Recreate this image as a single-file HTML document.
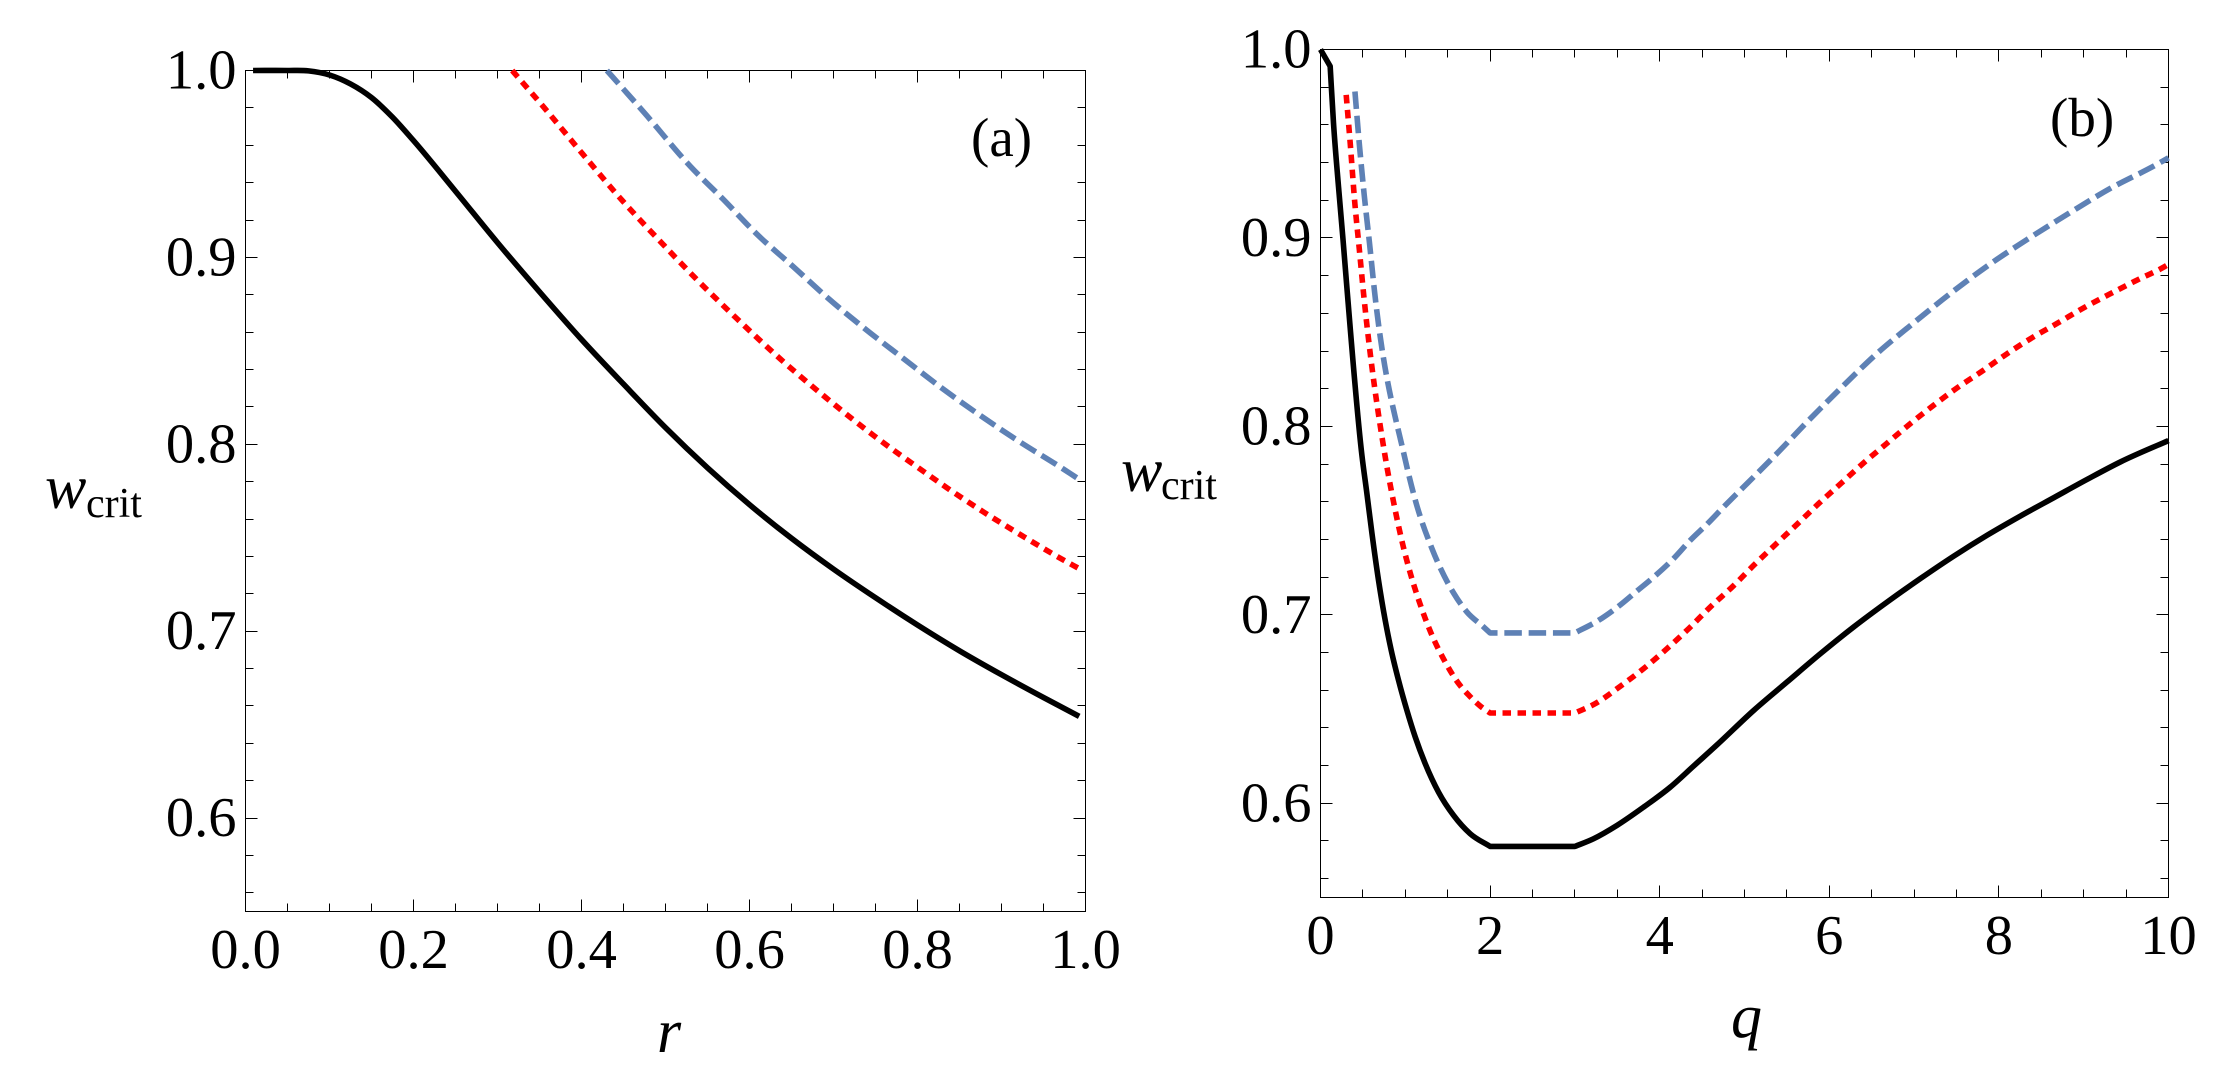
<!DOCTYPE html>
<html lang="en">
<head>
<meta charset="utf-8">
<title>Critical w versus r and q</title>
<style>
  html, body { margin: 0; padding: 0; background: #fff; }
  svg { display: block; }
  text { font-family: "Liberation Serif", serif; fill: #000; }
  .tick-label { font-size: 56.5px; }
  .sym { font-size: 62px; font-style: italic; }
  .sub { font-size: 42px; }
  .panel-tag { font-size: 55px; }
  .tick, .frame { stroke: #000; stroke-width: 1; fill: none; shape-rendering: crispEdges; }
  .curve { fill: none; stroke-width: 5.6; stroke-linejoin: round; }
</style>
</head>
<body>
<svg id="figure" xmlns="http://www.w3.org/2000/svg" width="2229" height="1084" viewBox="0 0 2229 1084">
  <rect x="0" y="0" width="2229" height="1084" fill="#ffffff"/>
  <g id="panel-a">
    <text class="panel-tag" x="971" y="156">(a)</text>
    <text x="45" y="508"><tspan class="sym">w</tspan></text>
    <text class="sub" x="86" y="517">crit</text>
    <text class="sym" x="657" y="1052">r</text>
  </g>
  <g id="panel-b">
    <text class="panel-tag" x="2050" y="136">(b)</text>
    <text x="1121" y="491"><tspan class="sym">w</tspan></text>
    <text class="sub" x="1161" y="499">crit</text>
    <text class="sym" x="1731" y="1037">q</text>
  </g>
</svg>
<script>
// Shared y-axis
const yMajorTicks = [0.6, 0.7, 0.8, 0.9, 1.0];
const yTickLabels = ["0.6", "0.7", "0.8", "0.9", "1.0"];

// Panel (a) axis values
const rMajorTicks = [0, 0.2, 0.4, 0.6, 0.8, 1.0];
const rTickLabels = ["0.0", "0.2", "0.4", "0.6", "0.8", "1.0"];

// Panel (a) series
const aBlackR = [0.009, 0.05, 0.075, 0.10, 0.125, 0.15, 0.175, 0.20, 0.25, 0.30, 0.35, 0.40, 0.45, 0.50, 0.55, 0.60, 0.65, 0.70, 0.75, 0.80, 0.85, 0.90, 0.95, 0.9925];
const aBlackW = [1.0, 1.0, 0.9998, 0.9976, 0.9928, 0.9855, 0.975, 0.9625, 0.9354, 0.9079, 0.8816, 0.8561, 0.8322, 0.8089, 0.7874, 0.7677, 0.7497, 0.7332, 0.7179, 0.7033, 0.6895, 0.6767, 0.6645, 0.6544];
const aRedR = [0.3175, 0.3556, 0.4016, 0.448, 0.4968, 0.5332, 0.5848, 0.6371, 0.6919, 0.7475, 0.8058, 0.8348, 0.8792, 0.9252, 0.9717, 0.9927];
const aRedW = [1.0, 0.9801, 0.9552, 0.9307, 0.9071, 0.89, 0.8673, 0.8455, 0.8246, 0.8048, 0.7859, 0.7768, 0.7636, 0.7509, 0.7386, 0.7334];
const aBlueR = [0.4302, 0.45, 0.4746, 0.5292, 0.5689, 0.6086, 0.6522, 0.6939, 0.7375, 0.782, 0.828, 0.8744, 0.9221, 0.9697, 0.9895];
const aBlueW = [1.0, 0.99, 0.9775, 0.9489, 0.931, 0.9125, 0.895, 0.878, 0.8618, 0.8463, 0.8304, 0.8155, 0.8012, 0.7879, 0.7821];

// Panel (b) axis values
const qMajorTicks = [0, 2, 4, 6, 8, 10];
const qTickLabels = ["0", "2", "4", "6", "8", "10"];

// Panel (b) series
const bBlackQ = [0, 0.114, 0.1534, 0.2124, 0.2643, 0.3115, 0.488, 0.547, 0.606, 0.684, 0.763, 0.834, 0.92, 1.019, 1.117, 1.235, 1.392, 1.569, 1.766, 2, 3, 3.22, 3.497, 3.811, 4.126, 4.401, 4.676, 5.109, 5.503, 5.896, 6.289, 6.683, 7.076, 7.469, 7.863, 8.256, 8.649, 9.042, 9.436, 10];
const bBlackW = [1.0, 0.9911, 0.9609, 0.9272, 0.8998, 0.8735, 0.7848, 0.7644, 0.7435, 0.7184, 0.6971, 0.6812, 0.6653, 0.6493, 0.6352, 0.621, 0.6059, 0.5936, 0.5838, 0.5771, 0.5771, 0.5812, 0.5883, 0.598, 0.6086, 0.6198, 0.631, 0.6493, 0.6644, 0.6794, 0.6936, 0.7068, 0.7193, 0.7312, 0.7423, 0.7525, 0.7622, 0.7719, 0.7812, 0.7925];
const bBlackCorners = [0.114, 2, 3];
const bRedQ = [0.303, 0.3504, 0.4055, 0.4566, 0.5077, 0.763, 0.861, 0.975, 1.066, 1.172, 1.298, 1.451, 1.636, 1.754, 1.884, 2, 3, 3.241, 3.536, 3.811, 4.087, 4.342, 4.598, 4.865, 5.109, 5.365, 5.621, 5.876, 6.144, 6.407, 6.663, 6.946, 7.221, 7.509, 7.792, 8.091, 8.393, 8.7, 9.003, 9.31, 9.632, 9.955, 10];
const bRedW = [0.9759, 0.9503, 0.9181, 0.8945, 0.8706, 0.7839, 0.76, 0.7364, 0.721, 0.706, 0.6909, 0.6766, 0.6631, 0.6571, 0.6516, 0.6479, 0.6479, 0.6529, 0.6621, 0.6715, 0.6821, 0.6927, 0.7042, 0.7152, 0.7263, 0.7373, 0.7481, 0.7591, 0.77, 0.7807, 0.7904, 0.8011, 0.8109, 0.8205, 0.829, 0.8384, 0.8471, 0.855, 0.863, 0.8703, 0.8777, 0.8848, 0.886];
const bRedCorners = [2, 3];
const bBlueQ = [0.406, 0.4605, 0.5156, 0.578, 0.6375, 0.991, 1.129, 1.314, 1.569, 1.727, 1.923, 2, 3, 3.28, 3.516, 3.733, 3.941, 4.165, 4.362, 4.558, 4.755, 4.932, 5.149, 5.365, 5.739, 6.152, 6.565, 6.989, 7.43, 7.882, 8.354, 8.826, 9.318, 9.829, 10];
const bBlueW = [0.9777, 0.9485, 0.9228, 0.8972, 0.8715, 0.7839, 0.7591, 0.7352, 0.7116, 0.7015, 0.6936, 0.6904, 0.6904, 0.6971, 0.7046, 0.7127, 0.7205, 0.7299, 0.7396, 0.7481, 0.7573, 0.7653, 0.775, 0.7848, 0.8024, 0.821, 0.8388, 0.8547, 0.8706, 0.8857, 0.8998, 0.9131, 0.9264, 0.9382, 0.9425];
const bBlueCorners = [2, 3];
const noCorners = [];

const SVG_NS = "http://www.w3.org/2000/svg";
const Y_MIN = 0.55, Y_MAX = 1.0;

function makeScale(d0, d1, p0, p1) {
  return function (v) { return p0 + (v - d0) * (p1 - p0) / (d1 - d0); };
}

function drawFrame(group, box) {
  const el = document.createElementNS(SVG_NS, "rect");
  
  
  el.setAttribute("class", "frame");
  el.setAttribute("x", box.left);
  el.setAttribute("y", box.top);
  el.setAttribute("width", box.right - box.left);
  el.setAttribute("height", box.bottom - box.top);
  group.appendChild(el);
}

function drawTick(group, x1, y1, x2, y2) {
  const el = document.createElementNS(SVG_NS, "line");
  
  
  el.setAttribute("class", "tick");
  el.setAttribute("x1", x1);
  el.setAttribute("y1", y1);
  el.setAttribute("x2", x2);
  el.setAttribute("y2", y2);
  group.appendChild(el);
}

function drawLabel(group, str, x, y, anchor) {
  const el = document.createElementNS(SVG_NS, "text");
  
  
  el.setAttribute("class", "tick-label");
  el.setAttribute("x", x);
  el.setAttribute("y", y);
  el.setAttribute("text-anchor", anchor);
  el.textContent = str;
  group.appendChild(el);
}

// Smooth path through the data: cubic Hermite in x, with one-sided slopes at listed corners.
function curvePath(xs, ys, sx, sy, corners) {
  const n = xs.length;
  const px = xs.map(sx);
  const py = ys.map(sy);
  function isCorner(i) {
    return corners.some(function (c) { return Math.abs(c - xs[i]) < 1e-9; });
  }
  function slope(i, side) {
    if (i === 0) return (py[1] - py[0]) / (px[1] - px[0]);
    if (i === n - 1) return (py[n - 1] - py[n - 2]) / (px[n - 1] - px[n - 2]);
    if (isCorner(i)) {
      if (side < 0) return (py[i] - py[i - 1]) / (px[i] - px[i - 1]);
      return (py[i + 1] - py[i]) / (px[i + 1] - px[i]);
    }
    const a = (py[i] - py[i - 1]) / (px[i] - px[i - 1]);
    const b = (py[i + 1] - py[i]) / (px[i + 1] - px[i]);
    const h0 = px[i] - px[i - 1];
    const h1 = px[i + 1] - px[i];
    return (a * h1 + b * h0) / (h0 + h1);
  }
  let d = "M" + px[0].toFixed(2) + " " + py[0].toFixed(2);
  for (let i = 0; i < n - 1; i++) {
    const dx = (px[i + 1] - px[i]) / 3;
    const c1x = px[i] + dx;
    const c1y = py[i] + slope(i, 1) * dx;
    const c2x = px[i + 1] - dx;
    const c2y = py[i + 1] - slope(i + 1, -1) * dx;
    d += "C" + c1x.toFixed(2) + " " + c1y.toFixed(2) + " " + c2x.toFixed(2) + " " + c2y.toFixed(2) + " " + px[i + 1].toFixed(2) + " " + py[i + 1].toFixed(2);
  }
  return d;
}

function drawCurve(group, xs, ys, sx, sy, corners, color, dash, name) {
  const el = document.createElementNS(SVG_NS, "path");
  
  
  el.setAttribute("d", curvePath(xs, ys, sx, sy, corners));
  el.setAttribute("class", "curve");
  el.setAttribute("stroke", color);
  if (dash) el.setAttribute("stroke-dasharray", dash);
  group.appendChild(el);
}

function drawAxes(group, box, sx, sy, xMajor, xLabels, xMinorStep, xMax, xBaseline) {
  drawFrame(group, box);
  const MAJOR = 12, MINOR = 8;
  const xMinorCount = Math.round(xMax / xMinorStep);
  for (let i = 1; i < xMinorCount; i++) {
    const v = i * xMinorStep;
    const isMajor = xMajor.some(function (m) { return Math.abs(m - v) < 1e-9; });
    const len = isMajor ? MAJOR : MINOR;
    const px = Math.floor(sx(v)) + 0.5;
    drawTick(group, px, box.bottom, px, box.bottom - len);
    drawTick(group, px, box.top, px, box.top + len);
  }
  for (let i = 0; i < 23; i++) {
    const w = Math.round((0.56 + i * 0.02) * 100) / 100;
    if (w >= Y_MAX) break;
    const isMajor = yMajorTicks.some(function (m) { return Math.abs(m - w) < 1e-9; });
    const len = isMajor ? MAJOR : MINOR;
    const py = Math.floor(sy(w)) + 0.5;
    drawTick(group, box.left, py, box.left + len, py);
    drawTick(group, box.right, py, box.right - len, py);
  }
  for (let i = 0; i < xMajor.length; i++) {
    drawLabel(group, xLabels[i], sx(xMajor[i]), xBaseline, "middle");
  }
  for (let i = 0; i < yMajorTicks.length; i++) {
    drawLabel(group, yTickLabels[i], box.left - 9, sy(yMajorTicks[i]) + 18, "end");
  }
}

const boxA = { left: 245.5, right: 1085.5, top: 70.5, bottom: 911.5 };
const boxB = { left: 1320.5, right: 2168.5, top: 49.5, bottom: 897.5 };

const xA = makeScale(0, 1, boxA.left, boxA.right);
const yA = makeScale(Y_MIN, Y_MAX, boxA.bottom, boxA.top);
const xB = makeScale(0, 10, boxB.left, boxB.right);
const yB = makeScale(Y_MIN, Y_MAX, boxB.bottom, boxB.top);

const groupA = document.getElementById("panel-a");
const groupB = document.getElementById("panel-b");

drawAxes(groupA, boxA, xA, yA, rMajorTicks, rTickLabels, 0.05, 1, 968);
drawAxes(groupB, boxB, xB, yB, qMajorTicks, qTickLabels, 0.5, 10, 954);

const RED_DASH = "8.5 6.5";
const BLUE_DASH = "17.5 6.8";

drawCurve(groupA, aBlueR, aBlueW, xA, yA, noCorners, "#5e81b5", BLUE_DASH, "panel-a-blue-dashed-series");
drawCurve(groupA, aRedR, aRedW, xA, yA, noCorners, "#ff0000", RED_DASH, "panel-a-red-dotted-series");
drawCurve(groupA, aBlackR, aBlackW, xA, yA, noCorners, "#000000", null, "panel-a-black-solid-series");

drawCurve(groupB, bBlueQ, bBlueW, xB, yB, bBlueCorners, "#5e81b5", BLUE_DASH, "panel-b-blue-dashed-series");
drawCurve(groupB, bRedQ, bRedW, xB, yB, bRedCorners, "#ff0000", RED_DASH, "panel-b-red-dotted-series");
drawCurve(groupB, bBlackQ, bBlackW, xB, yB, bBlackCorners, "#000000", null, "panel-b-black-solid-series");
</script>
</body>
</html>
